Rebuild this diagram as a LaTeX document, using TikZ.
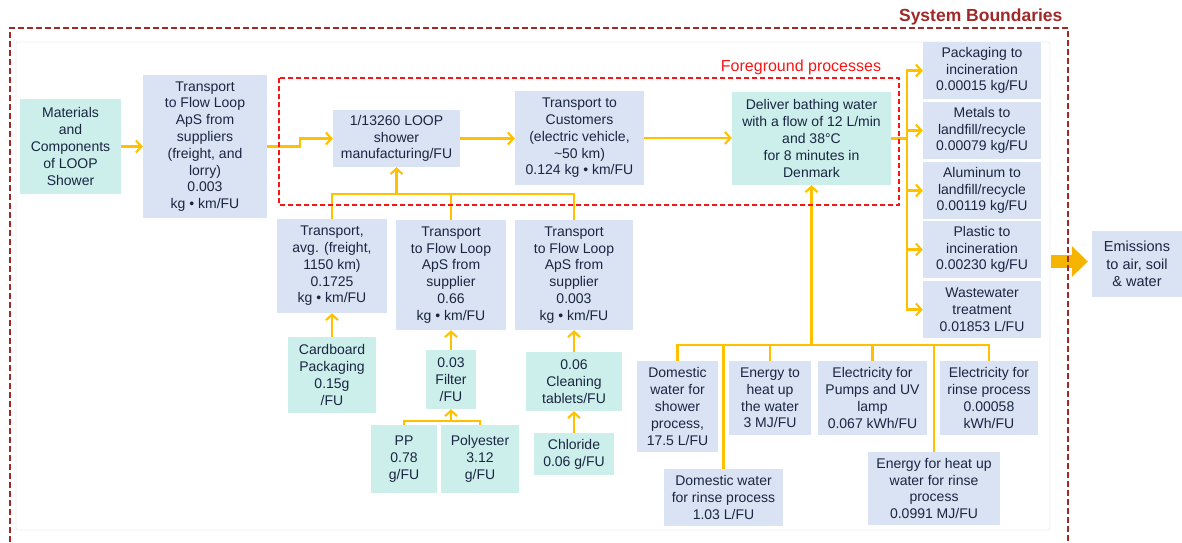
\documentclass[tikz,border=0pt]{standalone}
\usepackage{fontspec}
\setmainfont{Liberation Sans}
\usetikzlibrary{arrows.meta}
\definecolor{boxblue}{RGB}{218,227,243}
\definecolor{boxteal}{RGB}{204,239,235}
\definecolor{ink}{RGB}{26,38,66}
\definecolor{gold}{RGB}{255,192,0}
\definecolor{goldarrow}{RGB}{245,180,0}
\definecolor{bordred}{RGB}{160,40,40}
\definecolor{forered}{RGB}{250,20,20}

\begin{document}
\begin{tikzpicture}[x=1pt, y=-1pt,
    box/.style={align=center, inner sep=0pt, text=ink, font=\fontsize{14}{16.8}\selectfont},
    wh/.style 2 args={minimum width=#1pt, minimum height=#2pt},
    bluebox/.style={box, fill=boxblue},
    tealbox/.style={box, fill=boxteal},
    link/.style={gold, line width=2.1pt},
    flow/.style={link, -{Straight Barb[length=5.5pt, width=12pt]}},
  ]
  \useasboundingbox (0,0) rectangle (1182,542);
  \draw[black!7, line width=0.8pt, rounded corners=2pt] (16,42) rectangle (1050,530);

  \node[tealbox, wh={101}{95}] (mat) at (70.5,146.5) {Materials\\and\\Components\\of LOOP\\Shower};
  \node[bluebox, wh={124}{143}] (trA) at (205,146.5) {Transport\\to Flow Loop\\ApS from\\suppliers\\(freight, and\\lorry)\\0.003\\kg • km/FU};
  \node[bluebox, wh={127}{57}] (loop) at (396.5,138.5) {1/13260 LOOP\\shower\\manufacturing/FU};
  \node[bluebox, wh={129}{94}] (cust) at (579.5,138) {Transport to\\Customers\\(electric vehicle,\\\textasciitilde50 km)\\0.124 kg • km/FU};
  \node[tealbox, wh={159}{93}] (deliv) at (811.5,138.5) {Deliver bathing water\\with a flow of 12 L/min\\and 38°C\\for 8 minutes in\\Denmark};

  \node[bluebox, wh={118}{57}] (pack) at (982,70.5) {Packaging to\\incineration\\0.00015 kg/FU};
  \node[bluebox, wh={118}{57}] (metal) at (982,130.5) {Metals to\\landfill/recycle\\0.00079 kg/FU};
  \node[bluebox, wh={118}{57}] (alu) at (982,190.5) {Aluminum to\\landfill/recycle\\0.00119 kg/FU};
  \node[bluebox, wh={118}{57}] (plast) at (982,249.5) {Plastic to\\incineration\\0.00230 kg/FU};
  \node[bluebox, wh={118}{57}] (waste) at (982,309.5) {Wastewater\\treatment\\0.01853 L/FU};
  \node[bluebox, wh={90}{66}, font=\fontsize{14.5}{17.5}\selectfont] (emis) at (1137,264) {Emissions\\to air, soil\\\& water};

  \node[bluebox, wh={110}{94}] (trB) at (332,266) {Transport,\\avg. (freight,\\1150 km)\\0.1725\\kg • km/FU};
  \node[bluebox, wh={110}{110}] (trC) at (451,275) {Transport\\to Flow Loop\\ApS from\\supplier\\0.66\\kg • km/FU};
  \node[bluebox, wh={118}{110}] (trD) at (574,275) {Transport\\to Flow Loop\\ApS from\\supplier\\0.003\\kg • km/FU};
  \node[tealbox, wh={88}{76}] (card) at (332,375) {Cardboard\\Packaging\\0.15g\\/FU};
  \node[tealbox, wh={50}{59}] (filt) at (451,379.5) {0.03\\Filter\\/FU};
  \node[tealbox, wh={96}{59}] (tabl) at (574,381.5) {0.06\\Cleaning\\tablets/FU};
  \node[tealbox, wh={66}{68}] (pp) at (404,459) {PP\\0.78\\g/FU};
  \node[tealbox, wh={78}{68}] (poly) at (480,459) {Polyester\\3.12\\g/FU};
  \node[tealbox, wh={80}{42}] (chlor) at (574,454) {Chloride\\0.06 g/FU};

  \node[bluebox, wh={81}{91}] (dws) at (677.5,406.5) {Domestic\\water for\\shower\\process,\\17.5 L/FU};
  \node[bluebox, wh={82}{74}] (heat) at (770,398) {Energy to\\heat up\\the water\\3 MJ/FU};
  \node[bluebox, wh={109}{74}] (pump) at (872.5,398) {Electricity for\\Pumps and UV\\lamp\\0.067 kWh/FU};
  \node[bluebox, wh={98}{74}] (elr) at (989,398) {Electricity for\\rinse process\\0.00058\\kWh/FU};
  \node[bluebox, wh={119}{57}] (dwr) at (723.5,497.5) {Domestic water\\for rinse process\\1.03 L/FU};
  \node[bluebox, wh={132}{73}] (ehr) at (934,488.5) {Energy for heat up\\water for rinse\\process\\0.0991 MJ/FU};

  \draw[flow] (mat.east) -- (trA.west);
  \draw[flow] (trA.east) -- ++(33,0) |- (loop.west);
  \draw[flow] (loop.east) -- (loop.east -| cust.west);
  \draw[flow] (cust.east) -- (cust.east -| deliv.west);

  \coordinate (split) at (907,138.5);
  \draw[link] (deliv.east) -- (split);
  \foreach \n in {pack, metal, alu, plast, waste}
    \draw[flow] (split) |- (\n.west);

  \coordinate (emitfrom) at (1051,261.5);
  \draw[goldarrow, line width=13pt, -{Triangle[length=16pt, width=30pt]}, shorten >=4pt] (emitfrom) -- (emitfrom -| emis.west);

  \coordinate (busL) at (396.5,194);
  \draw[link] (trB.north) |- (trD.north |- busL) -- (trD.north);
  \draw[link] (trC.north) -- (trC.north |- busL);
  \draw[flow] (busL) -- (loop.south);
  \draw[flow] (card.north) -- (trB.south);
  \draw[flow] (filt.north) -- (trC.south);
  \draw[flow] (tabl.north) -- (trD.south);
  \draw[flow] (chlor.north) -- (tabl.south);
  \coordinate (busF) at (451,421);
  \draw[link] (pp.north) |- (poly.north |- busF) -- (poly.north);
  \draw[flow] (busF) -- (filt.south);

  \coordinate (busR) at (811.5,345);
  \draw[link] (dws.north) |- (elr.north |- busR) -- (elr.north);
  \foreach \n in {heat, pump, dwr, ehr}
    \draw[link] (\n.north) -- (\n.north |- busR);
  \draw[flow] (busR) -- (deliv.south);

  \draw[forered, line width=2.2pt, dash pattern=on 5pt off 3pt] (279,78) rectangle (899,205);
  \node[text=forered, font=\fontsize{16}{19}\selectfont] (forel) at (801,67) {Foreground processes};
  \draw[bordred, line width=2.2pt, dash pattern=on 6pt off 3pt] (10,542) |- (1068,28) -- (1068,542);
  \node[anchor=east, text=bordred, font=\fontsize{17.5}{20}\selectfont\bfseries] (sysl) at (1066,17) {System Boundaries};
\end{tikzpicture}
\end{document}
